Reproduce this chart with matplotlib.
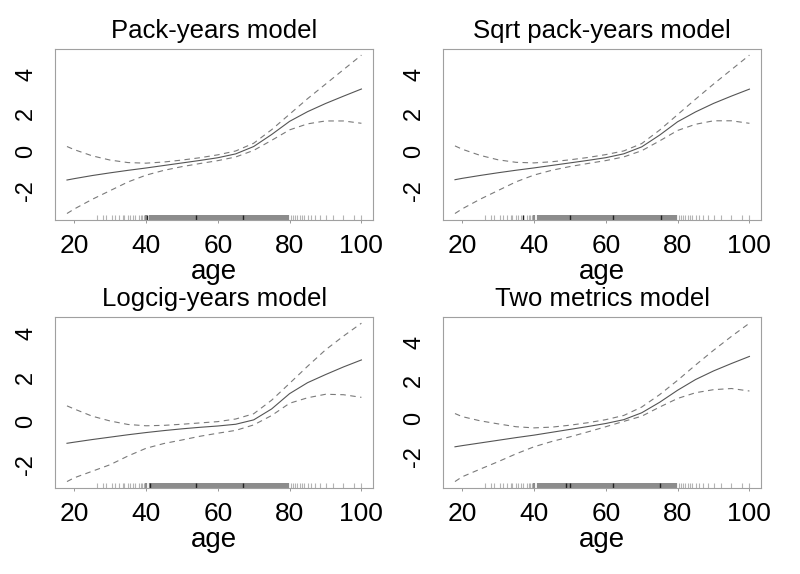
import matplotlib
matplotlib.use("Agg")
import matplotlib.pyplot as plt
import matplotlib.transforms as mtransforms

plt.rcParams['font.family'] = ['Liberation Sans', 'DejaVu Sans']
plt.rcParams['axes.unicode_minus'] = False

# === DATOS ===
AGE = [18, 20, 25, 30, 35, 40, 45, 50, 55, 60, 65, 70, 75, 80, 85, 90, 95, 100]

PACK_FIT = [-1.45, -1.38, -1.22, -1.08, -0.95, -0.83, -0.70, -0.57, -0.44, -0.30, -0.10, 0.28, 0.90, 1.58, 2.08, 2.50, 2.88, 3.25]
PACK_UPPER = [0.28, 0.12, -0.20, -0.42, -0.55, -0.58, -0.52, -0.42, -0.30, -0.15, 0.05, 0.45, 1.15, 1.95, 2.75, 3.50, 4.25, 5.00]
PACK_LOWER = [-3.18, -2.95, -2.45, -2.00, -1.55, -1.20, -0.95, -0.76, -0.60, -0.45, -0.26, 0.08, 0.60, 1.14, 1.45, 1.60, 1.60, 1.48]

SQRT_FIT = [-1.45, -1.38, -1.23, -1.09, -0.96, -0.84, -0.71, -0.58, -0.45, -0.31, -0.11, 0.25, 0.86, 1.55, 2.06, 2.50, 2.88, 3.24]
SQRT_UPPER = [0.30, 0.13, -0.19, -0.42, -0.55, -0.58, -0.52, -0.42, -0.30, -0.15, 0.04, 0.42, 1.12, 1.92, 2.72, 3.50, 4.25, 5.00]
SQRT_LOWER = [-3.20, -2.96, -2.46, -2.01, -1.56, -1.21, -0.96, -0.77, -0.61, -0.46, -0.27, 0.05, 0.56, 1.10, 1.42, 1.60, 1.60, 1.47]

LOGCIG_FIT = [-1.02, -0.97, -0.85, -0.74, -0.63, -0.53, -0.44, -0.36, -0.29, -0.23, -0.15, 0.05, 0.55, 1.25, 1.75, 2.12, 2.47, 2.79]
LOGCIG_UPPER = [0.69, 0.55, 0.22, 0.00, -0.16, -0.22, -0.20, -0.15, -0.09, -0.03, 0.09, 0.33, 0.95, 1.72, 2.50, 3.25, 3.88, 4.47]
LOGCIG_LOWER = [-2.77, -2.60, -2.30, -2.00, -1.60, -1.25, -1.03, -0.87, -0.70, -0.56, -0.43, -0.18, 0.25, 0.81, 1.06, 1.22, 1.20, 1.08]

TWO_FIT = [-1.48, -1.42, -1.28, -1.14, -1.00, -0.87, -0.72, -0.57, -0.42, -0.26, -0.06, 0.30, 0.85, 1.48, 2.04, 2.49, 2.88, 3.25]
TWO_UPPER = [0.26, 0.10, -0.12, -0.28, -0.43, -0.49, -0.45, -0.35, -0.22, -0.06, 0.16, 0.60, 1.25, 2.00, 2.80, 3.57, 4.30, 4.99]
TWO_LOWER = [-3.30, -3.05, -2.65, -2.26, -1.85, -1.48, -1.20, -0.96, -0.70, -0.43, -0.15, 0.12, 0.60, 1.05, 1.35, 1.51, 1.57, 1.44]

TITLES = ["Pack-years model", "Sqrt pack-years model", "Logcig-years model", "Two metrics model"]

# edades observadas (rug): zona poco densa y zona densa
RUG_SPARSE = [
    26.5, 28, 29, 30.5, 31.5, 32.5, 33.5, 34, 35, 35.5, 36.5, 37, 38, 38.5, 39, 39.5,
    80.5, 81, 81.5, 82, 83, 83.5, 84, 85, 86, 87, 88.5, 90, 92, 95, 98, 100,
]
RUG_DENSE = [
    40, 41, 41.5, 42, 42.5, 43, 43.5, 44, 44.5,
    45, 45.5, 46, 46.5, 47, 47.5, 48, 48.5, 49, 49.5, 50, 50.5, 51, 51.5, 52, 52.5,
    53, 53.5, 54, 54.5, 55, 55.5, 56, 56.5, 57, 57.5, 58, 58.5, 59, 59.5, 60, 60.5,
    61, 61.5, 62, 62.5, 63, 63.5, 64, 64.5, 65, 65.5, 66, 66.5, 67, 67.5, 68, 68.5,
    69, 69.5, 70, 70.5, 71, 71.5, 72, 72.5, 73, 73.5, 74, 74.5, 75, 75.5, 76, 76.5,
    77, 77.5, 78, 78.5, 79, 79.5,
]
RUG_DARK_PACK = [40.3, 54, 67]
RUG_DARK_SQRT = [37, 50, 62, 75.5]
RUG_DARK_LOGCIG = [41, 54, 67]
RUG_DARK_TWO = [49, 50, 62, 75]

panels = [
    (PACK_FIT, PACK_UPPER, PACK_LOWER, RUG_DARK_PACK),
    (SQRT_FIT, SQRT_UPPER, SQRT_LOWER, RUG_DARK_SQRT),
    (LOGCIG_FIT, LOGCIG_UPPER, LOGCIG_LOWER, RUG_DARK_LOGCIG),
    (TWO_FIT, TWO_UPPER, TWO_LOWER, RUG_DARK_TWO),
]

# === FIGURA ===
fig = plt.figure(figsize=(8, 5.74), dpi=100)
positions = [
    [0.069, 0.617, 0.3975, 0.298],
    [0.554, 0.617, 0.3975, 0.298],
    [0.069, 0.150, 0.3975, 0.298],
    [0.554, 0.150, 0.3975, 0.298],
]

for pos, title, (fit, upper, lower, dark) in zip(positions, TITLES, panels):
    ax = fig.add_axes(pos)
    ax.plot(AGE, fit, color='#555555', lw=0.8)
    ax.plot(AGE, upper, color='#7a7a7a', lw=0.8, ls=(0, (5, 4)))
    ax.plot(AGE, lower, color='#7a7a7a', lw=0.8, ls=(0, (5, 4)))

    # limites estilo R (4% extra)
    xmin, xmax = min(AGE), max(AGE)
    ymin, ymax = min(lower), max(upper)
    dx = (xmax - xmin) * 0.04
    dy = (ymax - ymin) * 0.04
    ax.set_xlim(xmin - dx, xmax + dx)
    ax.set_ylim(ymin - dy, ymax + dy)

    trans = mtransforms.blended_transform_factory(ax.transData, ax.transAxes)
    ax.vlines(RUG_SPARSE, 0, 0.03, transform=trans, color='#b4b4b4', lw=0.8)
    ax.vlines(RUG_DENSE, 0, 0.03, transform=trans, color='#8c8c8c', lw=1.6)
    ax.vlines(dark, 0, 0.03, transform=trans, color='#222222', lw=1.0)

    ax.set_xticks([20, 40, 60, 80, 100])
    ax.set_yticks([-2, 0, 2, 4])
    for s in ax.spines.values():
        s.set_color('#a0a0a0')
        s.set_linewidth(0.8)
    ax.tick_params(axis='x', length=2, width=0.6, color='#888888', pad=8, labelsize=19)
    ax.tick_params(axis='y', length=0, pad=13, labelsize=17, labelrotation=90)
    for lab in ax.get_yticklabels():
        lab.set_va('center')
    ax.set_xlabel('age', fontsize=20, labelpad=1)
    ax.set_title(title, fontsize=18.5, pad=8)

fig.savefig('out.png', dpi=100)
